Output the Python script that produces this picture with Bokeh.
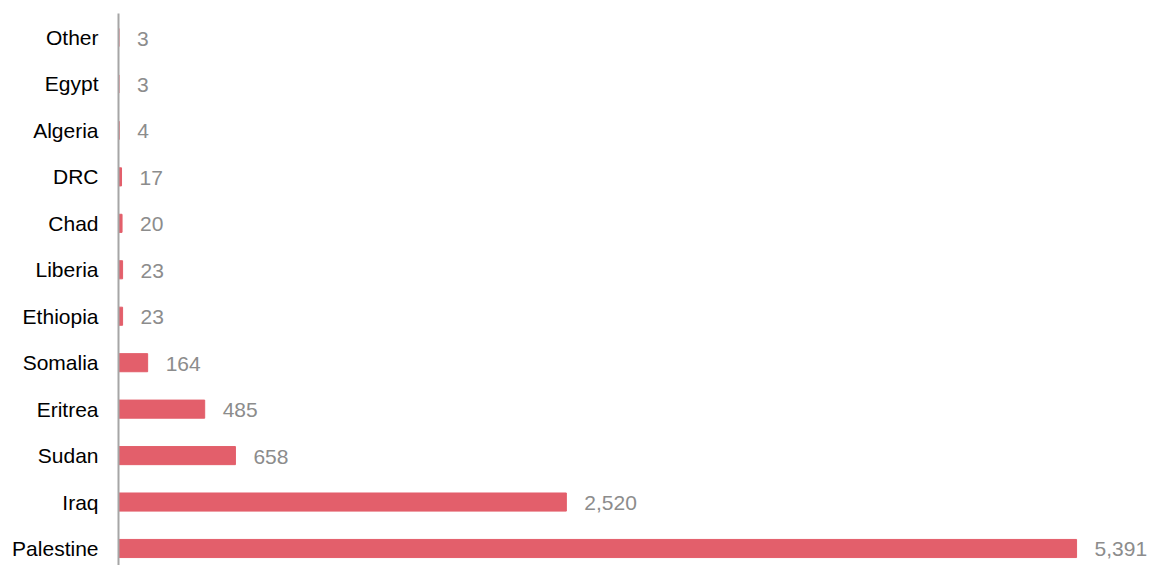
from bokeh.plotting import figure
from bokeh.models import Range1d, FixedTicker, ColumnDataSource
from bokeh.core.properties import value
from bokeh.embed import file_html
from bokeh.resources import INLINE

categories = ["Palestine", "Iraq", "Sudan", "Eritrea", "Somalia", "Ethiopia",
              "Liberia", "Chad", "DRC", "Algeria", "Egypt", "Other"]
counts = [5391, 2520, 658, 485, 164, 23, 23, 20, 17, 4, 3, 3]

pos = list(range(len(categories)))
labels = [f"{v:,}" for v in counts]
src = ColumnDataSource(dict(y=pos, x=counts, lab=labels))

p = figure(width=1150, height=565, output_backend="svg", toolbar_location=None,
           x_range=Range1d(0, 5807), y_range=Range1d(-0.366, 11.517),
           min_border_left=118, min_border_right=0, min_border_top=13, min_border_bottom=0)

p.hbar(y="y", right="x", left=0, height=0.39, source=src, color="#e35f6b")
p.text(x="x", y="y", text="lab", source=src, x_offset=18, y_offset=1,
       text_baseline="middle", text_align="left", text_color="#8c8c8c",
       text_font=value("Liberation Sans"), text_font_size="21px")

p.xaxis.visible = False
yax = p.yaxis[0]
yax.ticker = FixedTicker(ticks=pos)
yax.major_label_overrides = {i: c for i, c in enumerate(categories)}
yax.major_tick_line_color = None
yax.minor_tick_line_color = None
yax.axis_line_color = "#a6a6a6"
yax.axis_line_width = 2
yax.major_label_standoff = 14
yax.major_label_text_font = "Liberation Sans"
yax.major_label_text_font_size = "21px"
yax.major_label_text_color = "#000000"
p.xgrid.visible = False
p.ygrid.visible = False
p.outline_line_color = None

open("out.html", "w").write(file_html(p, INLINE))
